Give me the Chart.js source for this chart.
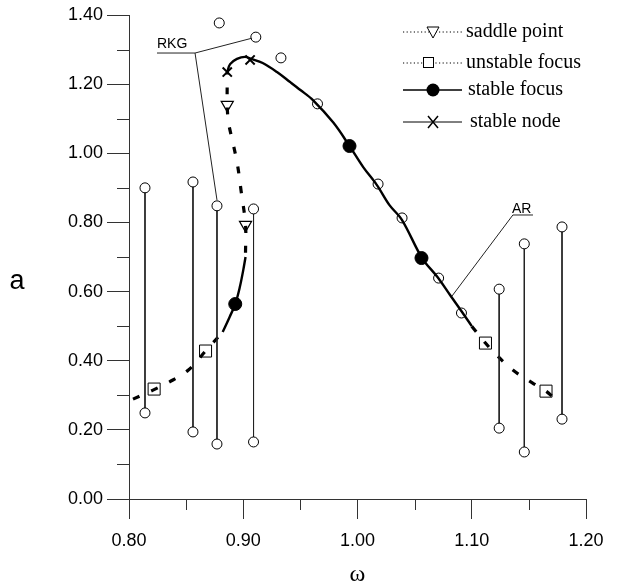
<!DOCTYPE html>
<html>
<head>
<meta charset="utf-8">
<script src="https://cdn.jsdelivr.net/npm/chart.js@4.4.1/dist/chart.umd.min.js"></script>
<style>
  html, body { margin: 0; padding: 0; background: #fff; }
  #wrap { width: 639px; height: 587px; }
</style>
</head>
<body>
<div id="wrap"><canvas id="chart"></canvas></div>
<script>
// axes
const xTicks = [0.80, 0.90, 1.00, 1.10, 1.20];
const yTicks = [0.00, 0.20, 0.40, 0.60, 0.80, 1.00, 1.20, 1.40];

// RKG runs with a beating response: min / max amplitude at a fixed ω
const rangeW   = [0.814, 0.856, 0.877, 0.909, 1.124, 1.146, 1.179];
const rangeMax = [0.900, 0.917, 0.848, 0.839, 0.607, 0.738, 0.787];
const rangeMin = [0.249, 0.194, 0.159, 0.165, 0.205, 0.136, 0.231];

// RKG runs with a steady amplitude
const rkgW = [0.879, 0.911, 0.933, 0.965, 1.018, 1.039, 1.071, 1.091];
const rkgA = [1.377, 1.336, 1.276, 1.143, 0.911, 0.813, 0.639, 0.538];

// AR response curve, split by stability
const unstLeftW = [0.8035, 0.821, 0.835, 0.852, 0.867, 0.882];
const unstLeftA = [0.289, 0.315, 0.338, 0.373, 0.428, 0.483];
const focusLeftW = [0.882, 0.888, 0.893, 0.897, 0.900, 0.902];
const focusLeftA = [0.483, 0.526, 0.564, 0.613, 0.662, 0.700];
const saddleW = [0.902, 0.902, 0.898, 0.895, 0.891, 0.887, 0.886, 0.886];
const saddleA = [0.712, 0.793, 0.894, 0.966, 1.030, 1.091, 1.140, 1.235];
const stableW = [0.886, 0.8885, 0.8945, 0.9015, 0.907, 0.917, 0.9295, 0.941, 0.950, 0.961, 0.979,
                 0.993, 1.005, 1.017, 1.028, 1.039, 1.0565, 1.070, 1.081, 1.0915, 1.100];
const stableA = [1.235, 1.258, 1.273, 1.279, 1.273, 1.261, 1.235, 1.206, 1.183, 1.154, 1.088,
                 1.021, 0.960, 0.908, 0.850, 0.807, 0.697, 0.642, 0.590, 0.541, 0.500];
const unstRightW = [1.100, 1.112, 1.120, 1.136, 1.153, 1.165, 1.172];
const unstRightA = [0.500, 0.451, 0.422, 0.373, 0.336, 0.312, 0.292];

// marked solutions
const saddlePtW = [0.886, 0.902];
const saddlePtA = [1.140, 0.793];
const unstPtW = [0.822, 0.867, 1.112, 1.165];
const unstPtA = [0.318, 0.428, 0.451, 0.312];
const focusPtW = [0.893, 0.993, 1.056];
const focusPtA = [0.564, 1.021, 0.697];
const nodePtW = [0.886, 0.906];
const nodePtA = [1.235, 1.270];

// callouts (null breaks the line)
const rkgNoteW = [0.8245, 0.8578, 0.9077, null, 0.8578, 0.877];
const rkgNoteA = [1.290, 1.290, 1.333, null, 1.290, 0.865];
const arNoteW = [1.1536, 1.136, 1.0827];
const arNoteA = [0.8215, 0.8215, 0.587];

const legendLabels = ['saddle point', 'unstable focus', 'stable focus', 'stable node'];

const pts = (ws, as) => ws.map((w, i) => ({ x: w, y: w === null ? null : as[i] }));

const rangeData = [];
rangeW.forEach((w, i) => {
  rangeData.push({ x: w, y: rangeMax[i] }, { x: w, y: rangeMin[i] }, { x: w, y: null });
});

const SANS = '"Liberation Sans", Arial, sans-serif';
const SERIF = '"Liberation Serif", "Times New Roman", serif';

function curve(ws, as, dashed) {
  return {
    data: pts(ws, as),
    showLine: true,
    borderColor: '#000',
    borderWidth: dashed ? 3.2 : 2.4,
    borderDash: dashed ? [7, 13] : [],
    tension: 0.35,
    pointRadius: 0,
    pointHoverRadius: 0
  };
}

function markers(ws, as, style) {
  return Object.assign({
    data: pts(ws, as),
    showLine: false,
    borderColor: '#000',
    backgroundColor: 'rgba(0,0,0,0)',
    borderWidth: 1,
    pointHoverRadius: 0
  }, style);
}

function thin(ws, as) {
  return {
    data: pts(ws, as),
    showLine: true,
    borderColor: '#222',
    borderWidth: 1,
    pointRadius: 0,
    pointHoverRadius: 0,
    spanGaps: false
  };
}

const decor = {
  id: 'decor',
  afterDraw(chart) {
    const { ctx, chartArea: area, scales: { x, y } } = chart;
    ctx.save();

    // minor ticks halfway between labelled ones
    ctx.strokeStyle = '#333';
    ctx.lineWidth = 1;
    ctx.beginPath();
    for (let i = 0; i < xTicks.length - 1; i++) {
      const px = Math.round(x.getPixelForValue((xTicks[i] + xTicks[i + 1]) / 2)) + 0.5;
      ctx.moveTo(px, area.bottom);
      ctx.lineTo(px, area.bottom + 11);
    }
    for (let i = 0; i < yTicks.length - 1; i++) {
      const py = Math.round(y.getPixelForValue((yTicks[i] + yTicks[i + 1]) / 2)) + 0.5;
      ctx.moveTo(area.left, py);
      ctx.lineTo(area.left - 12, py);
    }
    ctx.stroke();

    // y axis name, upright
    ctx.fillStyle = '#000';
    ctx.font = '27px ' + SANS;
    ctx.textAlign = 'center';
    ctx.textBaseline = 'middle';
    ctx.fillText('a', area.left - 112, y.getPixelForValue(0.63));

    // callout texts
    ctx.font = '14px ' + SANS;
    ctx.textAlign = 'left';
    ctx.textBaseline = 'alphabetic';
    ctx.fillText('RKG', x.getPixelForValue(rkgNoteW[0]), y.getPixelForValue(rkgNoteA[0]) - 5);
    ctx.fillText('AR', x.getPixelForValue(arNoteW[1]) - 1, y.getPixelForValue(arNoteA[1]) - 2);

    // legend
    const lx0 = area.right - 183, lx1 = area.right - 124, mx = area.right - 153;
    const rows = [area.top + 17, area.top + 48, area.top + 75, area.top + 107];
    ctx.strokeStyle = '#000';

    rows.forEach((ry, i) => {
      ctx.setLineDash(i < 2 ? [1.2, 2.4] : []);
      ctx.lineWidth = i === 2 ? 1.6 : 1;
      ctx.beginPath();
      ctx.moveTo(lx0, ry);
      ctx.lineTo(lx1, ry);
      ctx.stroke();
      ctx.setLineDash([]);
      ctx.lineWidth = 1;
      if (i === 0) {
        ctx.fillStyle = '#fff';
        ctx.beginPath();
        ctx.moveTo(mx - 6, ry - 5);
        ctx.lineTo(mx + 6, ry - 5);
        ctx.lineTo(mx, ry + 6);
        ctx.closePath();
        ctx.fill();
        ctx.stroke();
      } else if (i === 1) {
        ctx.fillStyle = '#fff';
        ctx.fillRect(mx - 10, ry - 6, 11, 11);
        ctx.strokeRect(mx - 9.5, ry - 5.5, 10, 10);
      } else if (i === 2) {
        ctx.fillStyle = '#000';
        ctx.beginPath();
        ctx.arc(mx, ry, 6.5, 0, Math.PI * 2);
        ctx.fill();
      } else {
        ctx.lineWidth = 1.5;
        ctx.beginPath();
        ctx.moveTo(mx - 5, ry - 6);
        ctx.lineTo(mx + 5, ry + 6);
        ctx.moveTo(mx + 5, ry - 6);
        ctx.lineTo(mx - 5, ry + 6);
        ctx.stroke();
      }
      ctx.fillStyle = '#000';
      ctx.font = '20px ' + SERIF;
      ctx.textBaseline = 'middle';
      ctx.fillText(legendLabels[i], area.right - 120 + (i > 1 ? 2 + (i - 2) * 2 : 0), ry);
    });

    ctx.restore();
  }
};

new Chart(document.getElementById('chart'), {
  type: 'scatter',
  data: {
    datasets: [
      // beating runs: vertical bars between min and max amplitude
      {
        data: rangeData,
        showLine: true,
        spanGaps: false,
        borderColor: '#222',
        borderWidth: 1,
        pointRadius: 5,
        pointBackgroundColor: '#fff',
        pointBorderColor: '#000',
        pointBorderWidth: 1,
        pointHoverRadius: 0
      },
      thin(rkgNoteW, rkgNoteA),
      thin(arNoteW, arNoteA),
      curve(unstLeftW, unstLeftA, true),
      curve(focusLeftW, focusLeftA, false),
      curve(saddleW, saddleA, true),
      curve(stableW, stableA, false),
      curve(unstRightW, unstRightA, true),
      markers(rkgW, rkgA, { pointRadius: 5, backgroundColor: '#fff' }),
      markers(saddlePtW, saddlePtA, { pointStyle: 'triangle', rotation: 180, pointRadius: 7, borderWidth: 1.2 }),
      markers(unstPtW, unstPtA, { pointStyle: 'rect', pointRadius: 8.5, borderWidth: 1 }),
      markers(focusPtW, focusPtA, { pointRadius: 6.5, backgroundColor: '#000' }),
      markers(nodePtW, nodePtA, { pointStyle: 'crossRot', pointRadius: 6.5, borderWidth: 2 })
    ]
  },
  options: {
    responsive: true,
    maintainAspectRatio: false,
    animation: false,
    devicePixelRatio: 1,
    events: [],
    layout: { padding: { top: 15, right: 53, bottom: 0, left: 0 } },
    plugins: { legend: { display: false }, tooltip: { enabled: false } },
    scales: {
      x: {
        type: 'linear',
        min: 0.8,
        max: 1.2,
        afterBuildTicks: s => { s.ticks = xTicks.map(v => ({ value: v })); },
        afterFit: s => { s.height = 88; },
        ticks: {
          callback: v => v.toFixed(2),
          color: '#000',
          padding: 11,
          maxRotation: 0,
          font: { family: SANS, size: 18 }
        },
        grid: { drawOnChartArea: false, drawTicks: true, tickLength: 20, tickColor: '#333' },
        border: { display: true, color: '#333', width: 1 },
        title: {
          display: true,
          text: 'ω',
          color: '#000',
          padding: { top: 0, bottom: 0 },
          font: { family: SERIF, size: 24, lineHeight: 1 }
        }
      },
      y: {
        type: 'linear',
        min: 0,
        max: 1.4,
        afterBuildTicks: s => { s.ticks = yTicks.map(v => ({ value: v })); },
        afterFit: s => { s.width = 129; },
        ticks: {
          callback: v => v.toFixed(2),
          color: '#000',
          padding: 4,
          font: { family: SANS, size: 18 }
        },
        grid: { drawOnChartArea: false, drawTicks: true, tickLength: 22, tickColor: '#333' },
        border: { display: true, color: '#333', width: 1 }
      }
    }
  },
  plugins: [decor]
});
</script>
</body>
</html>
